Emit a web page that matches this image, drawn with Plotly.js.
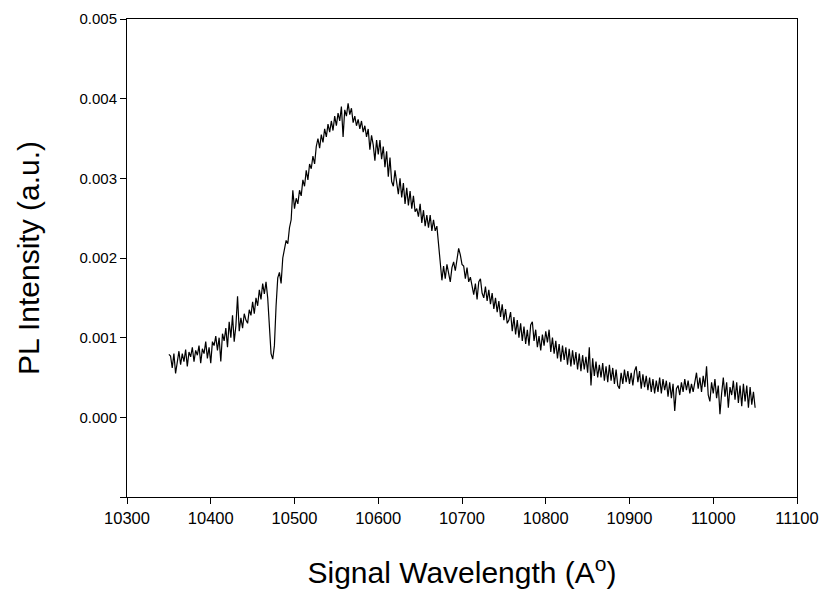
<!DOCTYPE html>
<html>
<head>
<meta charset="utf-8">
<script src="https://cdn.plot.ly/plotly-3.0.1.min.js"></script>
<style>
html,body{margin:0;padding:0;background:#fff;}
#chart{width:825px;height:593px;}
</style>
</head>
<body>
<div id="chart"></div>
<script>
// Signal wavelength (Angstrom)
const wavelength = [
10350,10352,10354,10356,10358,10360,10362,10364,10366,10368,
10370,10372,10374,10376,10378,10380,10382,10384,10386,10388,
10390,10392,10394,10396,10398,10400,10402,10404,10406,10408,
10410,10412,10414,10416,10418,10420,10422,10424,10426,10428,
10430,10432,10434,10436,10438,10440,10442,10444,10446,10448,
10450,10452,10454,10456,10458,10460,10462,10464,
10466,10468,10470,10472,10474,10476,10478,10480,10482,10484,10486,
10488,10490,10492,10494,10496,10498,10500,10502,10504,10506,
10508,10510,10512,10514,10516,10518,10520,10522,10524,10526,
10528,10530,10532,10534,10536,10538,10540,10542,10544,10546,
10548,10550,10552,10554,10556,10558,10560,10562,10564,10566,
10568,10570,10572,10574,10576,10578,10580,10582,10584,10586,
10588,10590,10592,10594,10596,10598,10600,10602,10604,10606,
10608,10610,10612,10614,10616,10618,10620,10622,10624,10626,
10628,10630,10632,10634,10636,10638,10640,10642,10644,10646,
10648,10650,10652,10654,10656,10658,10660,10662,10664,10666,
10668,10670,10672,10674,10676,10678,10680,10682,10684,10686,
10688,10690,10692,10694,10696,10698,10700,
10702,10704,10706,10708,10710,10712,10714,10716,10718,10720,
10722,10724,10726,10728,10730,10732,10734,10736,10738,10740,
10742,10744,10746,10748,10750,10752,10754,10756,
10758,10760,10762,10764,10766,10768,10770,10772,10774,10776,
10778,10780,10782,10784,10786,10788,10790,10792,10794,10796,
10798,10800,10802,10804,10806,10808,10810,10812,10814,10816,
10818,10820,10822,10824,10826,10828,10830,10832,10834,10836,
10838,10840,10842,10844,10846,10848,10850,10852,10854,10856,
10858,10860,10862,10864,10866,10868,10870,10872,10874,10876,
10878,10880,10882,10884,10886,10888,10890,10892,10894,10896,
10898,10900,10902,10904,10906,10908,10910,10912,10914,10916,
10918,10920,10922,10924,10926,10928,10930,10932,10934,10936,
10938,10940,10942,10944,10946,10948,10950,10952,10954,10956,
10958,10960,10962,10964,10966,10968,10970,10972,10974,10976,
10978,10980,10982,10984,10986,10988,10990,10992,10994,10996,
10998,11000,11002,11004,11006,11008,11010,11012,11014,11016,
11018,11020,11022,11024,11026,11028,11030,11032,11034,11036,
11038,11040,11042,11044,11046,11048,11050
];

// PL intensity (a.u.)
const plIntensity = [
0.00079,0.00077,0.00062,0.00080,0.00055,0.00072,0.00083,0.00066,0.00080,0.00070,
0.00085,0.00064,0.00082,0.00076,0.00088,0.00070,0.00084,0.00078,0.00090,0.00068,
0.00086,0.00080,0.00095,0.00074,0.00088,0.00068,0.00095,0.00090,0.00102,0.00084,
0.00100,0.00070,0.00105,0.00096,0.00112,0.00088,0.00120,0.00100,0.00128,0.00095,
0.00115,0.00152,0.00108,0.00125,0.00112,0.00130,0.00122,0.00118,0.00135,0.00128,
0.00145,0.00130,0.00150,0.00140,0.00160,0.00148,0.00168,0.00155,
0.00170,0.00150,0.00112,0.00080,0.00073,0.00090,0.00140,0.00175,0.00182,0.00168,0.00200,
0.00212,0.00222,0.00218,0.00238,0.00248,0.00285,0.00262,0.00275,0.00268,0.00285,
0.00278,0.00298,0.00290,0.00310,0.00298,0.00318,0.00312,0.00328,0.00318,0.00340,
0.00350,0.00338,0.00355,0.00345,0.00362,0.00352,0.00368,0.00358,0.00372,0.00360,
0.00378,0.00366,0.00382,0.00372,0.00390,0.00352,0.00386,0.00378,0.00394,0.00380,
0.00388,0.00370,0.00378,0.00366,0.00374,0.00362,0.00372,0.00358,0.00366,0.00352,
0.00362,0.00336,0.00354,0.00342,0.00322,0.00348,0.00330,0.00348,0.00324,0.00340,
0.00314,0.00334,0.00302,0.00326,0.00296,0.00290,0.00310,0.00294,0.00280,0.00300,
0.00276,0.00294,0.00268,0.00288,0.00266,0.00284,0.00262,0.00278,0.00258,0.00262,
0.00252,0.00268,0.00244,0.00260,0.00240,0.00254,0.00238,0.00254,0.00234,0.00248,
0.00234,0.00240,0.00220,0.00195,0.00172,0.00190,0.00174,0.00192,0.00180,0.00170,
0.00188,0.00195,0.00184,0.00200,0.00212,0.00204,0.00192,
0.00190,0.00174,0.00188,0.00170,0.00176,0.00162,0.00154,0.00168,0.00148,0.00170,
0.00174,0.00156,0.00150,0.00164,0.00146,0.00160,0.00142,0.00156,0.00136,0.00150,
0.00132,0.00146,0.00126,0.00142,0.00122,0.00136,0.00118,0.00122,
0.00132,0.00108,0.00126,0.00104,0.00122,0.00100,0.00118,0.00096,0.00114,0.00092,
0.00110,0.00090,0.00116,0.00120,0.00096,0.00110,0.00088,0.00102,0.00084,0.00104,
0.00090,0.00108,0.00094,0.00110,0.00082,0.00100,0.00080,0.00096,0.00074,0.00092,
0.00070,0.00090,0.00072,0.00088,0.00066,0.00086,0.00064,0.00084,0.00066,0.00082,
0.00060,0.00080,0.00058,0.00078,0.00060,0.00076,0.00056,0.00088,0.00040,0.00074,
0.00052,0.00070,0.00050,0.00066,0.00050,0.00068,0.00046,0.00064,0.00044,0.00066,
0.00046,0.00062,0.00042,0.00060,0.00040,0.00036,0.00056,0.00042,0.00060,0.00044,
0.00058,0.00042,0.00056,0.00040,0.00058,0.00064,0.00044,0.00058,0.00036,0.00054,
0.00038,0.00052,0.00034,0.00050,0.00032,0.00048,0.00030,0.00046,0.00032,0.00050,
0.00030,0.00048,0.00034,0.00046,0.00026,0.00044,0.00024,0.00042,0.00008,0.00036,
0.00040,0.00028,0.00044,0.00032,0.00048,0.00034,0.00046,0.00030,0.00042,0.00032,
0.00046,0.00056,0.00036,0.00050,0.00032,0.00052,0.00038,0.00064,0.00028,0.00020,
0.00044,0.00030,0.00048,0.00024,0.00040,0.00004,0.00030,0.00050,0.00026,0.00044,
0.00012,0.00038,0.00028,0.00046,0.00022,0.00044,0.00018,0.00040,0.00014,0.00042,
0.00020,0.00040,0.00012,0.00038,0.00016,0.00032,0.00012
];

// Axis tick values and labels
const xTickVals = [10300,10400,10500,10600,10700,10800,10900,11000,11100];
const xTickText = ['10300','10400','10500','10600','10700','10800','10900','11000','11100'];
const yTickVals = [0.000,0.001,0.002,0.003,0.004,0.005];
const yTickText = ['0.000','0.001','0.002','0.003','0.004','0.005'];

const FONT = 'Liberation Sans, Arial, sans-serif';

const trace = {
  x: wavelength,
  y: plIntensity,
  type: 'scatter',
  mode: 'lines',
  line: {color: '#000000', width: 1.2},
  hoverinfo: 'x+y'
};

const layout = {
  width: 825,
  height: 593,
  margin: {l: 127, r: 28, t: 19, b: 96},
  paper_bgcolor: '#ffffff',
  plot_bgcolor: '#ffffff',
  showlegend: false,
  font: {family: FONT, color: '#000000'},
  xaxis: {
    range: [10300, 11100],
    tickmode: 'array',
    tickvals: xTickVals,
    ticktext: xTickText,
    ticks: 'outside',
    ticklen: 6,
    tickwidth: 1,
    tickcolor: '#000000',
    showline: true,
    linecolor: '#000000',
    linewidth: 1,
    mirror: true,
    showgrid: false,
    zeroline: false,
    tickfont: {family: FONT, size: 16.5, color: '#000000'},
    title: {text: 'Signal Wavelength (A<sup>o</sup>)', font: {family: FONT, size: 30, color: '#000000'}, standoff: 36}
  },
  yaxis: {
    range: [-0.001, 0.005],
    tickmode: 'array',
    tickvals: yTickVals,
    ticktext: yTickText,
    ticks: 'outside',
    ticklen: 6,
    tickwidth: 1,
    tickcolor: '#000000',
    minor: {tickmode: 'linear', tick0: -0.001, dtick: 0.001, ticks: 'outside', ticklen: 6, tickwidth: 1, tickcolor: '#000000', showgrid: false},
    showline: true,
    linecolor: '#000000',
    linewidth: 1,
    mirror: true,
    showgrid: false,
    zeroline: false,
    tickfont: {family: FONT, size: 15, color: '#000000'},
    title: {text: 'PL Intensity (a.u.)', font: {family: FONT, size: 30, color: '#000000'}, standoff: 30}
  }
};

Plotly.newPlot('chart', [trace], layout, {displayModeBar: false, staticPlot: true});
</script>
</body>
</html>
